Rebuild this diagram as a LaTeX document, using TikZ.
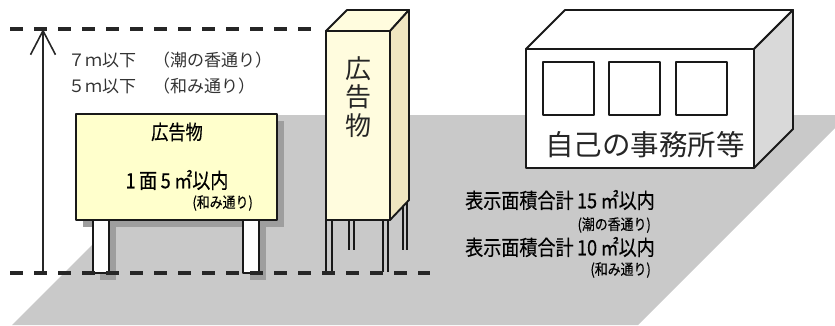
\documentclass[tikz,border=0pt]{standalone}
\usepackage{fontspec}
\setmainfont{Noto Sans CJK JP}
\newfontfamily\narrowjp[FakeStretch=0.86,FakeBold=0.4]{Noto Sans CJK JP}
\usetikzlibrary{arrows.meta}

\definecolor{board}{RGB}{255,255,204}
\definecolor{cream}{RGB}{255,252,222}
\definecolor{creamside}{RGB}{240,230,192}

\begin{document}
\begin{tikzpicture}[x=1pt,y=-1pt]
\tikzset{
% outlines of the signs and of the office
outline/.style={draw=black!90,line width=1.9pt,line join=round},
% the two height limits
limit line/.style={draw=black!85,line width=3.2pt,dash pattern=on 13pt off 11pt},
shadow/.style={fill=black!38},
leg/.style={outline,fill=white},
rod/.style={draw=black!90,line width=1.6pt},
big text/.style={text=black!80,inner sep=0pt,font=\fontsize{17}{17}\selectfont},
sign text/.style={inner sep=0pt,font=\narrowjp\fontsize{20}{20}\selectfont},
note/.style={inner sep=0pt,font=\narrowjp\fontsize{15}{15}\selectfont}
}
\useasboundingbox (0,0) rectangle (835,325);

% ground
\fill[black!21] (12,325) -- (222,115) -- (835,115) -- (835,128) -- (638,325) -- cycle;

% the sign board, its shadow and its legs
\fill[shadow] (83,121) rectangle (284,227);
\fill[shadow] (100,227) rectangle (116,280);
\fill[shadow] (250,227) rectangle (266,280);
\draw[leg] (93,220) rectangle (109,273);
\draw[leg] (243,220) rectangle (259,273);
\draw[outline,fill=board,line width=2.2pt] (76,114) rectangle (277,220);
\node(title)[sign text] at (177,132) {広告物};
\node(area)[sign text,font=\narrowjp\fontsize{21}{21}\selectfont] at (177,180) {1\,面\,5\,㎡以内};
\node(area note)[note,anchor=east] at (253,203) {(和み通り)};

% the pillar sign
\draw[rod] (326,220) -- (326,272) (332,220) -- (332,272);
\draw[rod] (349,220) -- (349,250) (354,220) -- (354,250);
\draw[rod] (383,220) -- (383,272) (388,220) -- (388,272);
\draw[rod] (403,200) -- (403,250) (407,200) -- (407,250);
\draw[outline,fill=cream] (326,31) -- (347,10) -- (409,10) -- (390,31) -- cycle;
\draw[outline,fill=creamside] (390,31) -- (409,10) -- (409,200) -- (390,220) -- cycle;
\draw[outline,fill=cream] (326,31) rectangle (390,220);
\node(pillar)[text=black!85,inner sep=0pt,align=center,
  font=\fontsize{26}{28.5}\selectfont] at (358,97) {広\\告\\物};

% the office
\draw[outline,fill=white] (526,49) -- (565,10) -- (793,10) -- (754,49) -- cycle;
\draw[outline,fill=black!15] (754,49) -- (793,10) -- (793,129) -- (754,168) -- cycle;
\draw[outline,fill=white] (526,49) rectangle (754,168);
\foreach \x in {543,609,676}
  \draw[outline,line width=1.6pt] (\x,62) rectangle +(51,53);
\node(office)[text=black!85,inner sep=0pt,font=\fontsize{28.5}{28.5}\selectfont] at (645,145) {自己の事務所等};

% height limits
\coordinate (top l) at (10,29);
\coordinate (top r) at (312,29);
\coordinate (base l) at (10,273);
\coordinate (base r) at (430,273);
\coordinate (ground) at (43,273);
\coordinate (limit) at (43,29);
\draw[limit line] (top l) -- (top r);
\draw[limit line] (base l) -- (base r);
\draw[black!85,line width=1.6pt,-{Straight Barb[length=24pt,width=25pt,line width=1.6pt]}] (ground) -- (limit);
\node(limit 7)[big text,anchor=west] at (68,60) {７ｍ以下　（潮の香通り）};
\node(limit 5)[big text,anchor=west] at (68,86) {５ｍ以下　（和み通り）};

% total display areas
\node(total 15)[sign text,font=\narrowjp\fontsize{21}{21}\selectfont,anchor=west] at (465,200) {表示面積合計\,15\,㎡以内};
\node(note 15)[note,anchor=east] at (651,225) {(潮の香通り)};
\node(total 10)[sign text,font=\narrowjp\fontsize{21}{21}\selectfont,anchor=west] at (465,247) {表示面積合計\,10\,㎡以内};
\node(note 10)[note,anchor=east] at (651,270) {(和み通り)};
\end{tikzpicture}
\end{document}
